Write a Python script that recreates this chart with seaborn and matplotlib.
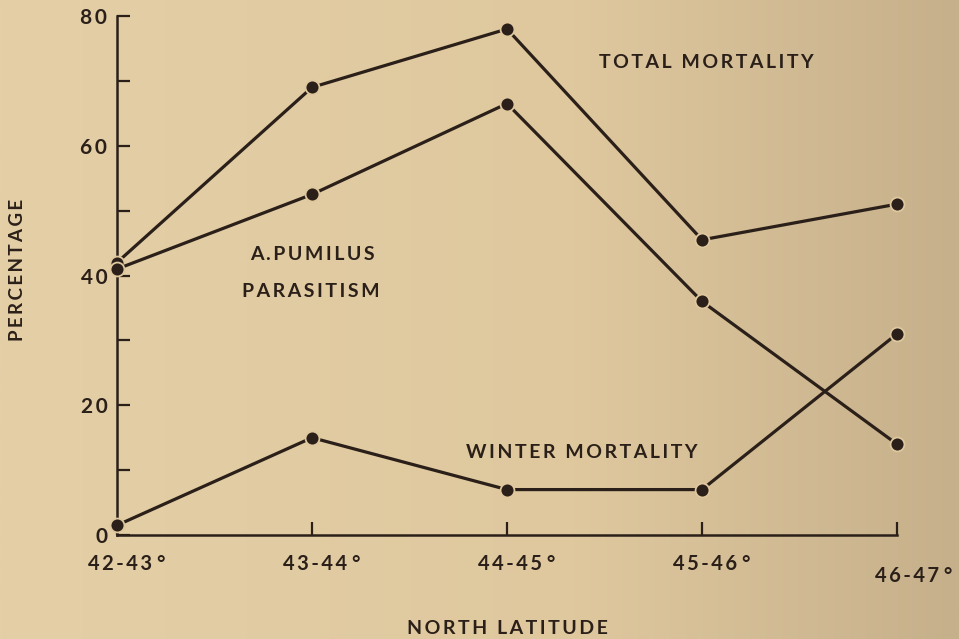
import numpy as np
import pandas as pd
import matplotlib
matplotlib.use("Agg")
import matplotlib.pyplot as plt
from matplotlib.transforms import ScaledTranslation
import seaborn as sns

# --- data -------------------------------------------------------------
latitudes = ["42-43", "43-44", "44-45", "45-46", "46-47"]
total_mortality = [42, 69, 78, 45.5, 51]
pumilus_parasitism = [41, 52.5, 66.5, 36, 14]
winter_mortality = [1.5, 15, 7, 7, 31]
y_ticks = [0, 20, 40, 60, 80]
y_minor_ticks = [10, 30, 50, 70]

series = {
    "TOTAL MORTALITY": total_mortality,
    "A.PUMILUS PARASITISM": pumilus_parasitism,
    "WINTER MORTALITY": winter_mortality,
}

df = pd.concat(
    [pd.DataFrame({"latitude": latitudes, "percentage": vals, "series": name})
     for name, vals in series.items()],
    ignore_index=True,
)

# --- style ------------------------------------------------------------
sns.set_theme(style="ticks")
plt.rcParams["font.family"] = ["Lato", "DejaVu Sans"]
plt.rcParams["font.weight"] = "bold"

INK = "#2b2019"
PAPER = "#dfc79e"
THIN = "\u2009"


def spaced(text):
    """Open up letter spacing with thin spaces between characters."""
    return THIN.join(text)


fig = plt.figure(figsize=(9.59, 6.39), dpi=100)

# paper-toned background, darkening toward the right edge
bg = fig.add_axes([0, 0, 1, 1], zorder=-10)
xs = np.linspace(0, 1, 400)
left_c = np.array([228, 207, 167]) / 255
mid_c = np.array([223, 200, 158]) / 255
right_c = np.array([198, 176, 139]) / 255
t = np.clip((xs - 0.6) / 0.4, 0, 1)[:, None]
row = np.where(xs[:, None] < 0.6,
               left_c + (mid_c - left_c) * (xs[:, None] / 0.6),
               mid_c + (right_c - mid_c) * t)
bg.imshow(row[None, :, :], aspect="auto", extent=[0, 1, 0, 1])
bg.set_axis_off()

ax = fig.add_axes([117 / 959, 104 / 639, 780 / 959, 519 / 639])
ax.set_facecolor("none")

for name in series:
    sub = df[df["series"] == name]
    sns.lineplot(
        data=sub, x="latitude", y="percentage", ax=ax, sort=False,
        color=INK, linewidth=2.3, marker="o", markersize=10,
        markerfacecolor=INK, markeredgecolor=PAPER, markeredgewidth=1.3,
        clip_on=False, zorder=3,
    )

ax.set_xlim(0, len(latitudes) - 1)
ax.set_ylim(0, 80)

sns.despine(ax=ax)
for side in ("left", "bottom"):
    ax.spines[side].set_color(INK)
    ax.spines[side].set_linewidth(1.8)

ax.set_yticks(y_ticks)
ax.set_yticks(y_minor_ticks, minor=True)
ax.set_yticklabels([spaced(str(v)) for v in y_ticks])
ax.set_xticks(range(len(latitudes)))
ax.set_xticklabels([f"{spaced(lab)} \u00b0" for lab in latitudes])

ax.tick_params(axis="both", which="both", direction="in", color=INK,
               width=1.6, length=9.5, labelcolor=INK)
ax.tick_params(axis="y", pad=7, labelsize=15)
ax.tick_params(axis="x", pad=14, labelsize=14.5)

# nudge latitude labels right so the digits sit over the ticks;
# the last one also sits a little lower
xlabels = ax.get_xticklabels()
for i, lbl in enumerate(xlabels):
    dx, dy = (7 / 72, 0) if i < len(xlabels) - 1 else (12 / 72, -8 / 72)
    lbl.set_transform(lbl.get_transform() +
                      ScaledTranslation(dx, dy, fig.dpi_scale_trans))

ax.set_xlabel("")
ax.set_ylabel("")

axis_kw = dict(ha="center", va="center", color=INK, fontweight="bold")
fig.text(507 / 959, 1 - 629 / 639, spaced("NORTH LATITUDE"), fontsize=14,
         **axis_kw)
fig.text(18 / 959, 1 - 270 / 639, spaced("PERCENTAGE"), rotation=90,
         fontsize=13.5, **axis_kw)

# series labels placed beside their curves
label_kw = dict(ha="center", va="center", fontsize=14, color=INK,
                fontweight="bold")
fig.text(706 / 959, 1 - 63 / 639, spaced("TOTAL MORTALITY"), **label_kw)
fig.text(312 / 959, 1 - 255 / 639, spaced("A.PUMILUS"), **label_kw)
fig.text(311 / 959, 1 - 292 / 639, spaced("PARASITISM"), **label_kw)
fig.text(582 / 959, 1 - 453 / 639, spaced("WINTER MORTALITY"), **label_kw)

fig.savefig("out.png", dpi=100)
